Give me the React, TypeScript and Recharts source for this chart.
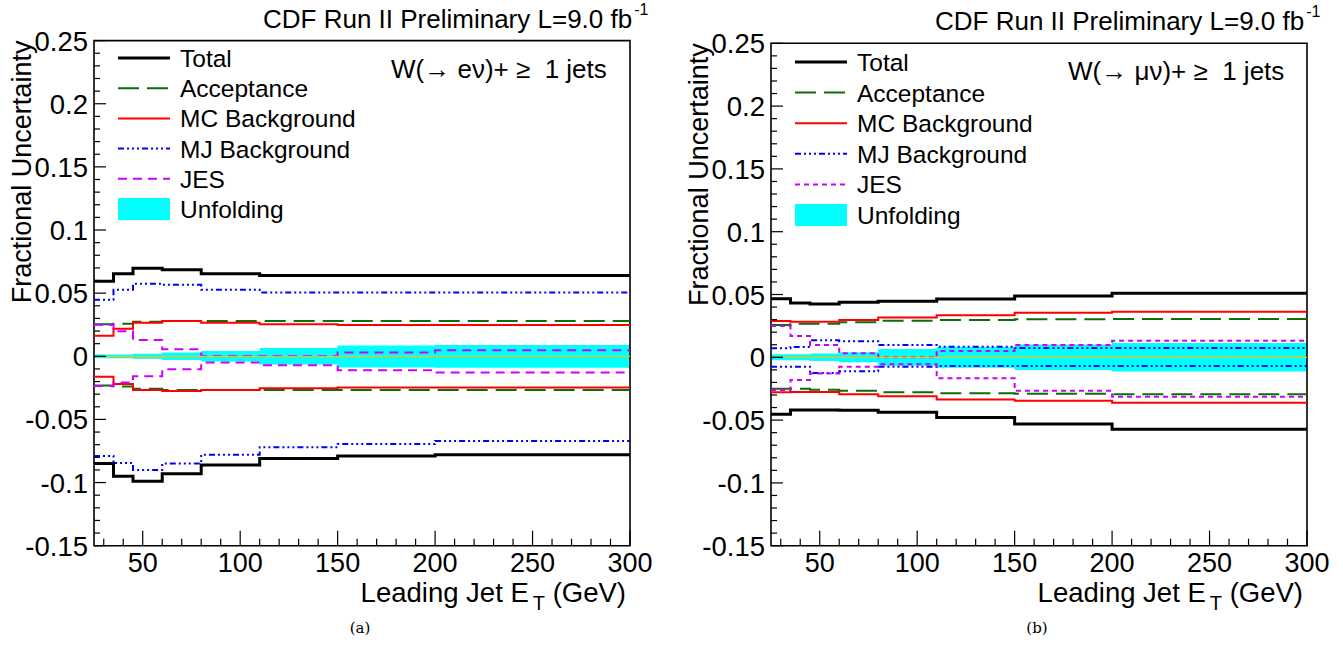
import { ComposedChart, Line, Area, XAxis, YAxis, ReferenceLine, ReferenceArea } from "recharts";

// bin low edges plus the last upper edge (GeV)
const binEdges = [25, 35, 45, 60, 80, 110, 150, 200, 300];

// W(-> e nu) + >= 1 jets
const eTotalUp = [0.0595, 0.0654, 0.0698, 0.0685, 0.0654, 0.064, 0.064, 0.064];
const eTotalDn = [-0.085, -0.095, -0.099, -0.093, -0.086, -0.081, -0.079, -0.078];
const eAccUp = [0.0253, 0.0258, 0.0274, 0.0279, 0.0279, 0.0279, 0.0279, 0.0279];
const eAccDn = [-0.0232, -0.024, -0.0258, -0.0266, -0.0266, -0.0266, -0.0266, -0.0266];
const eMcUp = [0.0163, 0.0219, 0.0266, 0.0279, 0.0266, 0.0253, 0.0248, 0.0248];
const eMcDn = [-0.0162, -0.0219, -0.0266, -0.0274, -0.0266, -0.0253, -0.0248, -0.0248];
const eMjUp = [0.0448, 0.0527, 0.0575, 0.0567, 0.0527, 0.0506, 0.0506, 0.0506];
const eMjDn = [-0.079, -0.0845, -0.09, -0.085, -0.078, -0.072, -0.0695, -0.067];
const eJesUp = [0.025, 0.0198, 0.0129, 0.0055, 0.0003, 0.0003, 0.003, 0.0047];
const eJesDn = [-0.0235, -0.0208, -0.0158, -0.0103, -0.005, -0.0071, -0.011, -0.0129];
const eUnfUp = [0.0015, 0.0015, 0.002, 0.003, 0.0042, 0.0065, 0.0085, 0.009];
const eUnfDn = [-0.0015, -0.0015, -0.002, -0.003, -0.0042, -0.0065, -0.0088, -0.009];

// W(-> mu nu) + >= 1 jets
const mTotalUp = [0.0467, 0.0432, 0.0424, 0.0438, 0.0446, 0.0464, 0.0488, 0.051];
const mTotalDn = [-0.0454, -0.042, -0.042, -0.0422, -0.0438, -0.048, -0.0531, -0.0573];
const mAccUp = [0.0257, 0.0268, 0.0268, 0.0279, 0.0292, 0.0297, 0.0302, 0.0305];
const mAccDn = [-0.025, -0.025, -0.0258, -0.0266, -0.0279, -0.0287, -0.029, -0.0295];
const mMcUp = [0.0289, 0.0284, 0.0284, 0.0297, 0.0316, 0.0334, 0.0355, 0.0363];
const mMcDn = [-0.0279, -0.0276, -0.0276, -0.0295, -0.031, -0.0335, -0.0345, -0.0361];
const mMjUp = [0.0072, 0.0082, 0.0135, 0.0127, 0.0098, 0.0084, 0.0074, 0.0074];
const mMjDn = [-0.0075, -0.0075, -0.0125, -0.0112, -0.0075, -0.0069, -0.0069, -0.0069];
const mJesUp = [0.0249, 0.017, 0.0098, 0.0032, 0.0, 0.005, 0.0098, 0.0132];
const mJesDn = [-0.026, -0.018, -0.0128, -0.0075, -0.0056, -0.0167, -0.0266, -0.0314];
const mUnfUp = [0.0024, 0.0024, 0.003, 0.004, 0.0067, 0.0083, 0.0101, 0.0113];
const mUnfDn = [-0.0024, -0.0024, -0.003, -0.004, -0.0067, -0.0083, -0.0101, -0.0113];

const xMajor = [50, 100, 150, 200, 250, 300];
const xLabels = ["50", "100", "150", "200", "250", "300"];
const yMajor = [-0.15, -0.1, -0.05, 0, 0.05, 0.1, 0.15, 0.2, 0.25];
const yLabels = ["-0.15", "-0.1", "-0.05", "0", "0.05", "0.1", "0.15", "0.2", "0.25"];

const legendNames = ["Total", "Acceptance", "MC Background", "MJ Background", "JES", "Unfolding"];

const xTicks: number[] = [];
for (let v = 30; v <= 300; v += 10) xTicks.push(v);
const yTicks: number[] = [];
for (let i = -15; i <= 25; i++) yTicks.push(i / 100);

const FONT = '"Liberation Sans", Arial, Helvetica, sans-serif';

function buildRows(series: Record<string, number[]>) {
  return binEdges.map((x, i) => {
    const k = Math.min(i, binEdges.length - 2);
    const row: Record<string, number> = { x };
    for (const key in series) row[key] = series[key][k];
    return row;
  });
}

const eRows = buildRows({
  totUp: eTotalUp, totDn: eTotalDn, accUp: eAccUp, accDn: eAccDn, mcUp: eMcUp, mcDn: eMcDn,
  mjUp: eMjUp, mjDn: eMjDn, jesUp: eJesUp, jesDn: eJesDn, unfUp: eUnfUp, unfDn: eUnfDn,
});
const mRows = buildRows({
  totUp: mTotalUp, totDn: mTotalDn, accUp: mAccUp, accDn: mAccDn, mcUp: mMcUp, mcDn: mMcDn,
  mjUp: mMjUp, mjDn: mMjDn, jesUp: mJesUp, jesDn: mJesDn, unfUp: mUnfUp, unfDn: mUnfDn,
});

const XTick = (props: any) => {
  const { x, y, payload } = props;
  const idx = xMajor.findIndex((m) => Math.abs(m - payload.value) < 1e-6);
  const major = idx >= 0;
  return (
    <g>
      <line x1={x} x2={x} y1={y} y2={y - (major ? 15 : 7)} stroke="#000" strokeWidth={1.2} />
      {major && (
        <text x={x} y={y + 26} textAnchor="middle" fontSize={27} fontFamily={FONT} fill="#000">
          {xLabels[idx]}
        </text>
      )}
    </g>
  );
};

const YTick = (props: any) => {
  const { x, y, payload } = props;
  const idx = yMajor.findIndex((m) => Math.abs(m - payload.value) < 1e-6);
  const major = idx >= 0;
  return (
    <g>
      <line x1={x} x2={x + (major ? 12 : 6)} y1={y} y2={y} stroke="#000" strokeWidth={1.2} />
      {major && (
        <text x={x - 6} y={y + 10} textAnchor="end" fontSize={27.5} fontFamily={FONT} fill="#000">
          {yLabels[idx]}
        </text>
      )}
    </g>
  );
};

const ACC = "#0b6e0b";
const ACC_DASH = "21 8";
const MC = "#ff0000";
const MJ = "#0000ff";
const MJ_DASH = "6 3 2 3 2 3 2 3";
const JES = "#cc00ff";

interface PanelProps {
  left: number;
  top: number;
  rows: Record<string, number>[];
  jesDash: string;
  channel: string;
  caption: string;
  legendTop: number;
  legendStep: number;
  titleX: number;
  titleY: number;
}

const Panel = ({ left, top, rows, jesDash, channel, caption, legendTop, legendStep, titleX, titleY }: PanelProps) => {
  const W = 660;
  const H = 646;
  const yAxisW = 80;
  const xAxisH = 40;
  const margin = { top, left: 94 - yAxisW, right: 30, bottom: H - 545.7 - xAxisH };
  const line = (key: string, stroke: string, width: number, dash?: string) => (
    <Line
      key={key}
      type="stepAfter"
      dataKey={key}
      stroke={stroke}
      strokeWidth={width}
      strokeDasharray={dash}
      dot={false}
      activeDot={false}
      isAnimationActive={false}
    />
  );
  const legendStyles = [
    { stroke: "#000", width: 3, dash: undefined as string | undefined },
    { stroke: ACC, width: 2, dash: ACC_DASH },
    { stroke: MC, width: 2, dash: undefined },
    { stroke: MJ, width: 2, dash: MJ_DASH },
    { stroke: JES, width: 2, dash: jesDash },
  ];
  return (
    <div style={{ position: "absolute", left, top: 0, width: W, height: H }}>
      <ComposedChart width={W} height={H} data={rows} margin={margin}>
        <XAxis
          dataKey="x"
          type="number"
          domain={[25, 300]}
          ticks={xTicks}
          interval={0}
          height={xAxisH}
          tickSize={0}
          tickMargin={0}
          axisLine={false}
          tickLine={false}
          tick={(p: any) => <XTick {...p} />}
          allowDataOverflow
        />
        <YAxis
          type="number"
          domain={[-0.15, 0.25]}
          ticks={yTicks}
          interval={0}
          width={yAxisW}
          tickSize={0}
          tickMargin={0}
          axisLine={false}
          tickLine={false}
          tick={(p: any) => <YTick {...p} />}
          allowDataOverflow
        />
        <Area
          type="stepAfter"
          dataKey={(d: any) => [d.unfDn, d.unfUp]}
          fill="#00ffff"
          fillOpacity={1}
          stroke="none"
          isAnimationActive={false}
          activeDot={false}
        />
        {line("accUp", ACC, 2, ACC_DASH)}
        {line("accDn", ACC, 2, ACC_DASH)}
        {line("mcUp", MC, 2)}
        {line("mcDn", MC, 2)}
        {line("mjUp", MJ, 2, MJ_DASH)}
        {line("mjDn", MJ, 2, MJ_DASH)}
        {line("jesUp", JES, 2, jesDash)}
        {line("jesDn", JES, 2, jesDash)}
        {line("totUp", "#000", 3)}
        {line("totDn", "#000", 3)}
        <ReferenceLine y={0} stroke="#ffbf00" strokeWidth={1.2} />
        <ReferenceArea x1={25} x2={300} y1={-0.15} y2={0.25} fill="none" stroke="#000" strokeWidth={1.6} />
      </ComposedChart>
      <svg
        width={W}
        height={H}
        style={{ position: "absolute", left: 0, top: 0, pointerEvents: "none", overflow: "visible" }}
        fontFamily={FONT}
      >
        <text x={titleX} y={titleY} fontSize={26} fill="#000">
          CDF Run II Preliminary L=9.0 fb
          <tspan dx={2} dy={-13} fontSize={16}>-1</tspan>
        </text>
        <text transform={`translate(31,${top}) rotate(-90)`} textAnchor="end" fontSize={27} fill="#000">
          Fractional Uncertainty
        </text>
        <text x={626} y={602} textAnchor="end" fontSize={27.5} fill="#000">
          Leading Jet E
          <tspan dx={4} dy={8} fontSize={20}>T</tspan>
          <tspan dy={-8}>{"\u00a0(GeV)"}</tspan>
        </text>
        <text x={391} y={titleY + 50} fontSize={26} fill="#000">
          {channel}
        </text>
        {legendNames.map((name, i) => {
          const cy = legendTop + i * legendStep;
          const st = legendStyles[i];
          return (
            <g key={name}>
              {st ? (
                <line x1={118} x2={170} y1={cy} y2={cy} stroke={st.stroke} strokeWidth={st.width} strokeDasharray={st.dash} />
              ) : (
                <rect x={118} y={cy - 11} width={52} height={22} fill="#00ffff" />
              )}
              <text x={180} y={cy + 9} fontSize={24.5} fill="#000">
                {name}
              </text>
            </g>
          );
        })}
        <text x={360} y={633} textAnchor="middle" fontSize={15} fontFamily="'DejaVu Serif', 'Liberation Serif', serif" fill="#000">
          {caption}
        </text>
      </svg>
    </div>
  );
};

export default function App() {
  return (
    <div style={{ position: "absolute", left: 0, top: 0, width: 1343, height: 646, background: "#fff" }}>
      <Panel
        left={0}
        top={40.6}
        rows={eRows}
        jesDash="9 6"
        channel={"W(\u2192 e\u03bd)+ \u2265\u00a0\u00a01 jets"}
        caption="(a)"
        legendTop={58}
        legendStep={30.2}
        titleX={263}
        titleY={28}
      />
      <Panel
        left={677}
        top={43.3}
        rows={mRows}
        jesDash="5 4"
        channel={"W(\u2192 \u03bc\u03bd)+ \u2265\u00a0\u00a01 jets"}
        caption="(b)"
        legendTop={62}
        legendStep={30.6}
        titleX={258}
        titleY={30}
      />
    </div>
  );
}
